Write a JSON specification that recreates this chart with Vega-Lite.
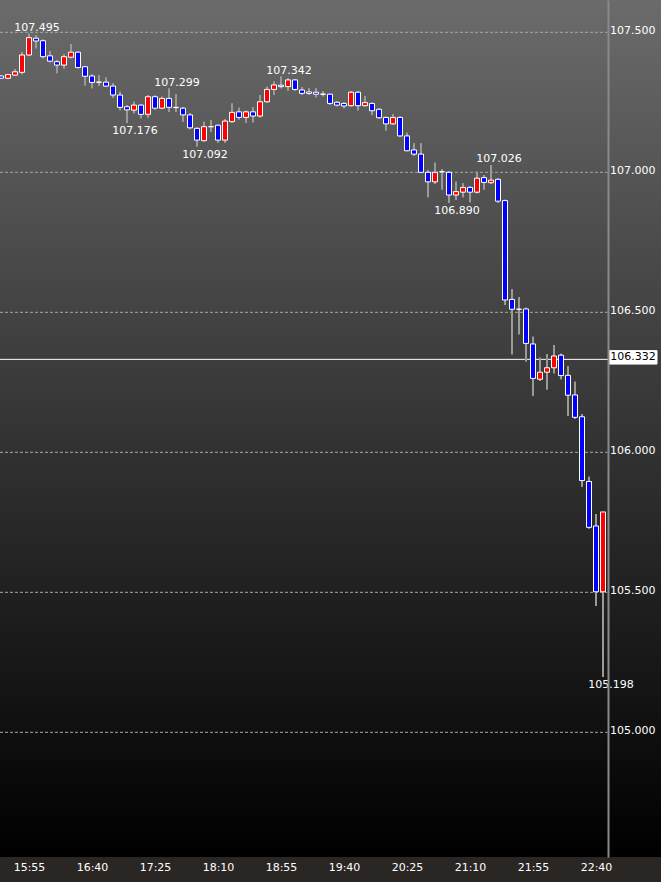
{
  "$schema": "https://vega.github.io/schema/vega-lite/v6.json",
  "width": 661,
  "height": 857,
  "autosize": "none",
  "padding": {"left": 0, "top": 0, "right": 0, "bottom": 25},
  "background": "#2a2624",
  "config": {"view": {"stroke": null}, "font": "DejaVu Sans"},
  "data": {
    "format": {"parse": {"t": "utc:'%H:%M'"}},
    "values": [
      {"t":"15:35","o":107.344,"h":107.347,"l":107.333,"c":107.336},
      {"t":"15:40","o":107.336,"h":107.351,"l":107.333,"c":107.349},
      {"t":"15:45","o":107.347,"h":107.369,"l":107.344,"c":107.359},
      {"t":"15:50","o":107.357,"h":107.429,"l":107.350,"c":107.419},
      {"t":"15:55","o":107.419,"h":107.495,"l":107.415,"c":107.481},
      {"t":"16:00","o":107.479,"h":107.490,"l":107.443,"c":107.469},
      {"t":"16:05","o":107.470,"h":107.474,"l":107.407,"c":107.413},
      {"t":"16:10","o":107.416,"h":107.433,"l":107.393,"c":107.397},
      {"t":"16:15","o":107.395,"h":107.401,"l":107.354,"c":107.383},
      {"t":"16:20","o":107.383,"h":107.422,"l":107.371,"c":107.413},
      {"t":"16:25","o":107.411,"h":107.457,"l":107.407,"c":107.429},
      {"t":"16:30","o":107.429,"h":107.431,"l":107.372,"c":107.374},
      {"t":"16:35","o":107.377,"h":107.379,"l":107.310,"c":107.343},
      {"t":"16:40","o":107.344,"h":107.349,"l":107.300,"c":107.321},
      {"t":"16:45","o":107.322,"h":107.347,"l":107.308,"c":107.322},
      {"t":"16:50","o":107.322,"h":107.339,"l":107.305,"c":107.308},
      {"t":"16:55","o":107.308,"h":107.318,"l":107.266,"c":107.276},
      {"t":"17:00","o":107.276,"h":107.288,"l":107.222,"c":107.232},
      {"t":"17:05","o":107.234,"h":107.240,"l":107.176,"c":107.223},
      {"t":"17:10","o":107.222,"h":107.252,"l":107.211,"c":107.240},
      {"t":"17:15","o":107.240,"h":107.243,"l":107.193,"c":107.207},
      {"t":"17:20","o":107.207,"h":107.276,"l":107.196,"c":107.270},
      {"t":"17:25","o":107.270,"h":107.274,"l":107.224,"c":107.229},
      {"t":"17:30","o":107.229,"h":107.270,"l":107.226,"c":107.264},
      {"t":"17:35","o":107.264,"h":107.299,"l":107.216,"c":107.232},
      {"t":"17:40","o":107.232,"h":107.279,"l":107.216,"c":107.231},
      {"t":"17:45","o":107.229,"h":107.233,"l":107.181,"c":107.205},
      {"t":"17:50","o":107.205,"h":107.211,"l":107.154,"c":107.159},
      {"t":"17:55","o":107.157,"h":107.160,"l":107.092,"c":107.115},
      {"t":"18:00","o":107.113,"h":107.181,"l":107.110,"c":107.163},
      {"t":"18:05","o":107.163,"h":107.187,"l":107.145,"c":107.163},
      {"t":"18:10","o":107.168,"h":107.170,"l":107.106,"c":107.115},
      {"t":"18:15","o":107.115,"h":107.190,"l":107.106,"c":107.183},
      {"t":"18:20","o":107.181,"h":107.246,"l":107.176,"c":107.214},
      {"t":"18:25","o":107.216,"h":107.231,"l":107.189,"c":107.196},
      {"t":"18:30","o":107.196,"h":107.220,"l":107.177,"c":107.216},
      {"t":"18:35","o":107.216,"h":107.232,"l":107.179,"c":107.201},
      {"t":"18:40","o":107.201,"h":107.276,"l":107.196,"c":107.252},
      {"t":"18:45","o":107.252,"h":107.306,"l":107.249,"c":107.296},
      {"t":"18:50","o":107.296,"h":107.324,"l":107.276,"c":107.312},
      {"t":"18:55","o":107.311,"h":107.342,"l":107.300,"c":107.306},
      {"t":"19:00","o":107.306,"h":107.336,"l":107.291,"c":107.330},
      {"t":"19:05","o":107.330,"h":107.333,"l":107.290,"c":107.296},
      {"t":"19:10","o":107.294,"h":107.305,"l":107.276,"c":107.282},
      {"t":"19:15","o":107.287,"h":107.300,"l":107.276,"c":107.282},
      {"t":"19:20","o":107.286,"h":107.300,"l":107.268,"c":107.279},
      {"t":"19:25","o":107.279,"h":107.290,"l":107.272,"c":107.279},
      {"t":"19:30","o":107.279,"h":107.281,"l":107.240,"c":107.246},
      {"t":"19:35","o":107.250,"h":107.254,"l":107.236,"c":107.240},
      {"t":"19:40","o":107.246,"h":107.251,"l":107.229,"c":107.237},
      {"t":"19:45","o":107.238,"h":107.290,"l":107.235,"c":107.286},
      {"t":"19:50","o":107.286,"h":107.290,"l":107.222,"c":107.238},
      {"t":"19:55","o":107.238,"h":107.272,"l":107.235,"c":107.249},
      {"t":"20:00","o":107.246,"h":107.249,"l":107.205,"c":107.220},
      {"t":"20:05","o":107.225,"h":107.230,"l":107.190,"c":107.195},
      {"t":"20:10","o":107.196,"h":107.198,"l":107.149,"c":107.173},
      {"t":"20:15","o":107.173,"h":107.207,"l":107.170,"c":107.196},
      {"t":"20:20","o":107.196,"h":107.200,"l":107.127,"c":107.130},
      {"t":"20:25","o":107.130,"h":107.141,"l":107.075,"c":107.077},
      {"t":"20:30","o":107.080,"h":107.104,"l":107.058,"c":107.065},
      {"t":"20:35","o":107.065,"h":107.104,"l":106.998,"c":107.000},
      {"t":"20:40","o":107.000,"h":107.007,"l":106.911,"c":106.966},
      {"t":"20:45","o":106.966,"h":107.034,"l":106.958,"c":107.000},
      {"t":"20:50","o":107.002,"h":107.011,"l":106.939,"c":107.002},
      {"t":"20:55","o":107.000,"h":107.004,"l":106.890,"c":106.919},
      {"t":"21:00","o":106.919,"h":106.966,"l":106.901,"c":106.931},
      {"t":"21:05","o":106.929,"h":106.961,"l":106.911,"c":106.946},
      {"t":"21:10","o":106.946,"h":106.950,"l":106.893,"c":106.929},
      {"t":"21:15","o":106.929,"h":107.002,"l":106.925,"c":106.979},
      {"t":"21:20","o":106.981,"h":106.990,"l":106.939,"c":106.964},
      {"t":"21:25","o":106.963,"h":107.026,"l":106.958,"c":106.972},
      {"t":"21:30","o":106.975,"h":106.978,"l":106.891,"c":106.897},
      {"t":"21:35","o":106.899,"h":106.902,"l":106.526,"c":106.544},
      {"t":"21:40","o":106.546,"h":106.582,"l":106.350,"c":106.511},
      {"t":"21:45","o":106.511,"h":106.554,"l":106.422,"c":106.511},
      {"t":"21:50","o":106.512,"h":106.516,"l":106.324,"c":106.389},
      {"t":"21:55","o":106.387,"h":106.413,"l":106.202,"c":106.264},
      {"t":"22:00","o":106.261,"h":106.338,"l":106.255,"c":106.286},
      {"t":"22:05","o":106.286,"h":106.351,"l":106.224,"c":106.302},
      {"t":"22:10","o":106.302,"h":106.383,"l":106.282,"c":106.344},
      {"t":"22:15","o":106.347,"h":106.352,"l":106.261,"c":106.274},
      {"t":"22:20","o":106.275,"h":106.308,"l":106.131,"c":106.204},
      {"t":"22:25","o":106.205,"h":106.252,"l":106.120,"c":106.125},
      {"t":"22:30","o":106.127,"h":106.137,"l":105.877,"c":105.899},
      {"t":"22:35","o":105.896,"h":105.913,"l":105.728,"c":105.732},
      {"t":"22:40","o":105.737,"h":105.780,"l":105.451,"c":105.502},
      {"t":"22:45","o":105.502,"h":105.787,"l":105.198,"c":105.787}
    ]
  },
  "layer": [
    {
      "data": {"values": [{"bg": 1}]},
      "mark": {
        "type": "rect",
        "fill": {
          "gradient": "linear", "x1": 0, "y1": 0, "x2": 0, "y2": 1,
          "stops": [{"offset": 0, "color": "#6b6b6b"}, {"offset": 0.5, "color": "#343434"}, {"offset": 1, "color": "#000000"}]
        }
      },
      "encoding": {}
    },
    {
      "mark": {"type": "rule", "color": "#9a9a9a", "strokeWidth": 2},
      "encoding": {
        "x": {
          "field": "t", "type": "temporal",
          "scale": {"type": "utc", "padding": 0, "domain": [{"year": 1900, "month": 1, "date": 1, "hours": 15, "minutes": 34, "seconds": 17, "milliseconds": 143, "utc": true}, {"year": 1900, "month": 1, "date": 1, "hours": 23, "minutes": 26, "seconds": 25, "milliseconds": 714, "utc": true}]},
          "axis": {
            "orient": "bottom", "title": null,
            "labelExpr": "utcFormat(datum.value, '%H:%M')",
            "values": [
              {"year": 1900, "month": 1, "date": 1, "hours": 15, "minutes": 55, "utc": true},
              {"year": 1900, "month": 1, "date": 1, "hours": 16, "minutes": 40, "utc": true},
              {"year": 1900, "month": 1, "date": 1, "hours": 17, "minutes": 25, "utc": true},
              {"year": 1900, "month": 1, "date": 1, "hours": 18, "minutes": 10, "utc": true},
              {"year": 1900, "month": 1, "date": 1, "hours": 18, "minutes": 55, "utc": true},
              {"year": 1900, "month": 1, "date": 1, "hours": 19, "minutes": 40, "utc": true},
              {"year": 1900, "month": 1, "date": 1, "hours": 20, "minutes": 25, "utc": true},
              {"year": 1900, "month": 1, "date": 1, "hours": 21, "minutes": 10, "utc": true},
              {"year": 1900, "month": 1, "date": 1, "hours": 21, "minutes": 55, "utc": true},
              {"year": 1900, "month": 1, "date": 1, "hours": 22, "minutes": 40, "utc": true}
            ],
            "labelColor": "#ffffff", "labelFont": "DejaVu Sans", "labelFontSize": 11,
            "ticks": false, "domain": false, "grid": false, "labelPadding": 4,
            "labelFlush": false, "labelOverlap": false, "zindex": 1
          }
        },
        "y": {
          "field": "l", "type": "quantitative",
          "scale": {"domain": [104.5547, 107.6154], "nice": false, "zero": false, "padding": 0},
          "axis": {
            "orient": "right", "offset": -53, "title": null,
            "values": [105.0, 105.5, 106.0, 106.5, 107.0, 107.5], "format": ".3f",
            "labelColor": "#ffffff", "labelFont": "DejaVu Sans", "labelFontSize": 11,
            "ticks": false, "domain": true, "domainColor": "#8a8a8a", "domainWidth": 2,
            "grid": false, "labelPadding": 1.5, "labelOffset": -2,
            "labelFlush": false, "labelOverlap": false, "zindex": 1
          }
        },
        "y2": {"field": "h"}
      }
    },
    {
      "data": {"values": [{"p": 105.0}, {"p": 105.5}, {"p": 106.0}, {"p": 106.5}, {"p": 107.0}, {"p": 107.5}]},
      "mark": {"type": "rule", "color": "#a8a8a8", "strokeWidth": 1, "strokeDash": [3, 2]},
      "encoding": {
        "y": {"field": "p", "type": "quantitative"},
        "x": {"datum": {"year": 1900, "month": 1, "date": 1, "hours": 15, "minutes": 34, "seconds": 17, "milliseconds": 143, "utc": true}, "type": "temporal"},
        "x2": {"datum": {"year": 1900, "month": 1, "date": 1, "hours": 22, "minutes": 48, "seconds": 13, "utc": true}}
      }
    },
    {
      "data": {"values": [{"p": 106.332}]},
      "mark": {"type": "rule", "color": "#ffffff", "strokeWidth": 1},
      "encoding": {
        "y": {"field": "p", "type": "quantitative"},
        "x": {"datum": {"year": 1900, "month": 1, "date": 1, "hours": 15, "minutes": 34, "seconds": 17, "milliseconds": 143, "utc": true}, "type": "temporal"},
        "x2": {"datum": {"year": 1900, "month": 1, "date": 1, "hours": 22, "minutes": 48, "seconds": 40, "utc": true}}
      }
    },
    {
      "mark": {"type": "rule", "color": "#9a9a9a", "strokeWidth": 2},
      "encoding": {
        "x": {"field": "t", "type": "temporal"},
        "y": {"field": "l", "type": "quantitative"},
        "y2": {"field": "h"}
      }
    },
    {
      "mark": {"type": "bar", "width": 5, "stroke": "#ffffff", "strokeWidth": 1},
      "encoding": {
        "x": {"field": "t", "type": "temporal"},
        "y": {"field": "o", "type": "quantitative"},
        "y2": {"field": "c"},
        "fill": {"condition": {"test": "datum.c > datum.o", "value": "#ff0000"}, "value": "#0000ff"}
      }
    },
    {
      "data": {
        "format": {"parse": {"t": "utc:'%H:%M'"}},
        "values": [
          {"t": "15:55", "hi": 107.495},
          {"t": "17:35", "hi": 107.299},
          {"t": "18:55", "hi": 107.342},
          {"t": "21:25", "hi": 107.026}
        ]
      },
      "mark": {"type": "text", "color": "#ffffff", "font": "DejaVu Sans", "fontSize": 11, "align": "center", "baseline": "alphabetic", "dx": 8, "dy": -3},
      "encoding": {
        "x": {"field": "t", "type": "temporal"},
        "y": {"field": "hi", "type": "quantitative"},
        "text": {"field": "hi", "type": "quantitative", "format": ".3f"}
      }
    },
    {
      "data": {
        "format": {"parse": {"t": "utc:'%H:%M'"}},
        "values": [
          {"t": "17:05", "lo": 107.176},
          {"t": "17:55", "lo": 107.092},
          {"t": "20:55", "lo": 106.890},
          {"t": "22:45", "lo": 105.198}
        ]
      },
      "mark": {"type": "text", "color": "#ffffff", "font": "DejaVu Sans", "fontSize": 11, "align": "center", "baseline": "top", "dx": 8, "dy": 2},
      "encoding": {
        "x": {"field": "t", "type": "temporal"},
        "y": {"field": "lo", "type": "quantitative"},
        "text": {"field": "lo", "type": "quantitative", "format": ".3f"}
      }
    },
    {
      "data": {"values": [{"p": 106.332}]},
      "mark": {"type": "point", "shape": "M-1,-0.28L1,-0.28L1,0.28L-1,0.28Z", "size": 2304, "filled": true, "fill": "#ffffff", "stroke": "#ffffff", "strokeWidth": 1, "opacity": 1, "yOffset": -2},
      "encoding": {
        "x": {"datum": {"year": 1900, "month": 1, "date": 1, "hours": 23, "minutes": 6, "seconds": 26, "utc": true}, "type": "temporal"},
        "y": {"field": "p", "type": "quantitative"}
      }
    },
    {
      "data": {"values": [{"p": 106.332}]},
      "mark": {"type": "text", "color": "#000000", "font": "DejaVu Sans", "fontSize": 11, "align": "center", "baseline": "middle", "yOffset": -2},
      "encoding": {
        "x": {"datum": {"year": 1900, "month": 1, "date": 1, "hours": 23, "minutes": 6, "seconds": 26, "utc": true}, "type": "temporal"},
        "y": {"field": "p", "type": "quantitative"},
        "text": {"field": "p", "type": "quantitative", "format": ".3f"}
      }
    }
  ]
}
